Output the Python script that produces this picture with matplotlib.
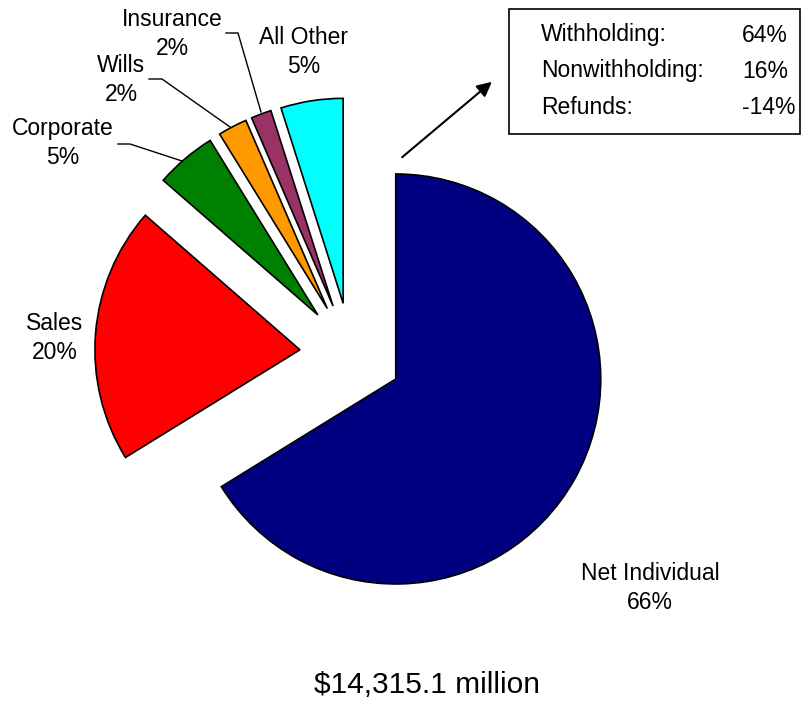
import matplotlib
matplotlib.use('Agg')
import matplotlib.pyplot as plt

plt.rcParams['font.family'] = ['Liberation Sans', 'DejaVu Sans']

# Anteile der Einnahmen (Prozent)
categories = ['Net Individual', 'Sales', 'Corporate', 'Wills', 'Insurance', 'All Other']
shares = [66.2, 20.2, 4.8, 2.3, 1.6, 4.9]
share_labels = ['66%', '20%', '5%', '2%', '2%', '5%']
colors = ['#000080', '#FF0000', '#008000', '#FF9900', '#993366', '#00FFFF']

box_names = ['Withholding:', 'Nonwithholding:', 'Refunds:']
box_values = ['64%', '16%', '-14%']
total_text = '$14,315.1 million'

W, H = 803, 702
fig = plt.figure(figsize=(W / 100, H / 100), dpi=100)
ax = fig.add_axes([0, 0, 1, 1])
ax.set_xlim(0, W)
ax.set_ylim(0, H)

radius = 205
ax.pie(shares, colors=colors, startangle=90, counterclock=False,
       center=(351, H - 354), radius=radius, frame=True,
       explode=[0.25 * radius] * len(shares),
       wedgeprops=dict(edgecolor='black', linewidth=1.2))
ax.set_xlim(0, W)
ax.set_ylim(0, H)
ax.set_aspect('equal')
ax.axis('off')

fs = 16.5
# Beschriftungen (Pixelpositionen, y von oben)
label_pos = {
    'Net Individual': (650, 588),
    'Sales': (55, 338),
    'Corporate': (63, 143),
    'Wills': (121, 80),
    'Insurance': (172, 34),
    'All Other': (304, 52),
}
for name, pct in zip(categories, share_labels):
    px, py = label_pos[name]
    ax.text(px, H - py, name + '\n' + pct, ha='center', va='center',
            fontsize=fs, linespacing=1.3)

# Hinweislinien
leaders = [
    [(118, 144), (130, 144), (182, 161)],
    [(149, 79), (162, 79), (230, 127)],
    [(226, 33), (238, 33), (261, 112)],
]
for pts in leaders:
    ax.plot([p[0] for p in pts], [H - p[1] for p in pts], color='black', lw=1)

# Kasten mit Aufteilung von Net Individual
ax.add_patch(plt.Rectangle((509, H - 134), 291, 125, fill=False,
                           edgecolor='black', lw=1.2))
for i, (n, v) in enumerate(zip(box_names, box_values)):
    y = H - (35 + 36 * i)
    ax.text(541, y, n, ha='left', va='center', fontsize=fs)
    ax.text(742, y, v, ha='left', va='center', fontsize=fs)

ax.annotate('', xy=(494, H - 80), xytext=(400, H - 159),
            arrowprops=dict(arrowstyle='-|>', color='black', lw=1.5,
                            mutation_scale=22))

ax.text(427, H - 685, total_text, ha='center', va='center', fontsize=21.5)

fig.savefig('out.png', dpi=100)
